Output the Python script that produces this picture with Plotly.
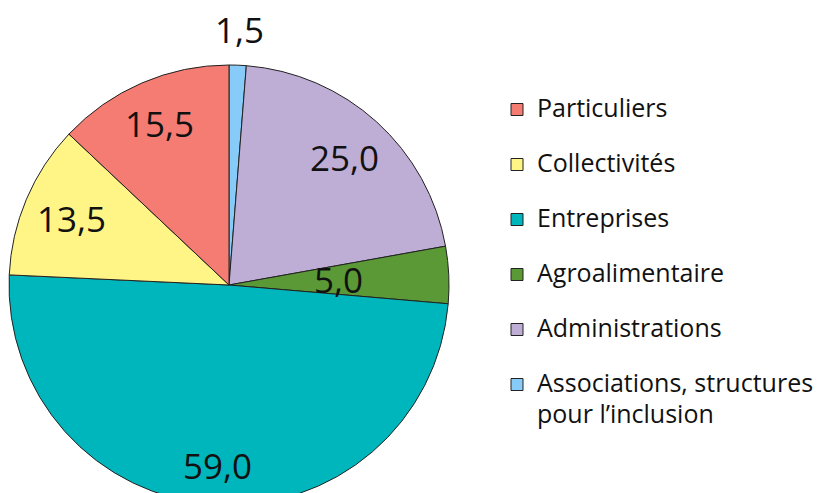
import math
import plotly.graph_objects as go

categories = ["Particuliers", "Collectivités", "Entreprises", "Agroalimentaire",
              "Administrations", "Associations, structures<br>pour l’inclusion"]
values = [15.5, 13.5, 59.0, 5.0, 25.0, 1.5]
colors = ["#F47C72", "#FFF587", "#00B6BD", "#5A9935", "#BEADD5", "#87CBF9"]
# radial placement of each value label, as a fraction of the pie radius
label_radius = [0.80, 0.78, 0.82, 0.50, 0.78, 1.16]

W, H = 835, 510
CX, CY, R = 229, 285, 220  # pie centre / radius in pixels


def legend_label(c):
    parts = c.split("<br>")
    big = [f"<span style='font-size:25px'>{p}</span>" for p in parts]
    if len(parts) == 1:
        return big[0] + "<br> "
    # nudge the continuation line a little lower
    return big[0] + "<br>" + "<br>".join(f"<sub>{b}</sub>" for b in big[1:])


legend_labels = [legend_label(c) for c in categories]

# clockwise from 12 o'clock the slices run in reverse legend order
rev = slice(None, None, -1)
fig = go.Figure(go.Pie(
    labels=legend_labels[rev],
    values=values[rev],
    sort=False,
    direction="clockwise",
    rotation=0,
    marker=dict(colors=colors[rev], line=dict(color="#222222", width=1)),
    textinfo="none",
    domain=dict(x=[(CX - R) / W, (CX + R) / W], y=[(H - CY - R) / H, (H - CY + R) / H]),
    hoverinfo="skip",
))

# value labels, positioned on each slice's bisector
total = sum(values)
start = 0.0
for v, frac in zip(values[rev], label_radius[rev]):
    mid = (start + v / 2) / total * 2 * math.pi
    start += v
    px = CX + frac * R * math.sin(mid)
    py = CY - frac * R * math.cos(mid)
    fig.add_annotation(
        x=px / W, y=(H - py) / H, xref="paper", yref="paper",
        text=f"{v:.1f}".replace(".", ","), showarrow=False,
        font=dict(size=35, family="Open Sans", color="#111111"),
        xanchor="center", yanchor="middle",
    )

fig.update_layout(
    width=W, height=H,
    margin=dict(l=0, r=0, t=0, b=0),
    separators=", ",
    paper_bgcolor="white",
    font=dict(family="Open Sans", color="#111111"),
    legend=dict(x=497 / W, y=(H - 90) / H, xanchor="left", yanchor="top",
                valign="top", traceorder="reversed",
                font=dict(size=20, family="Open Sans", color="#111111"),
                itemwidth=30),
    showlegend=True,
)

fig.write_html("out.html", config={"displayModeBar": False},
               post_script="document.body.style.margin='0';document.body.style.overflow='hidden';")
